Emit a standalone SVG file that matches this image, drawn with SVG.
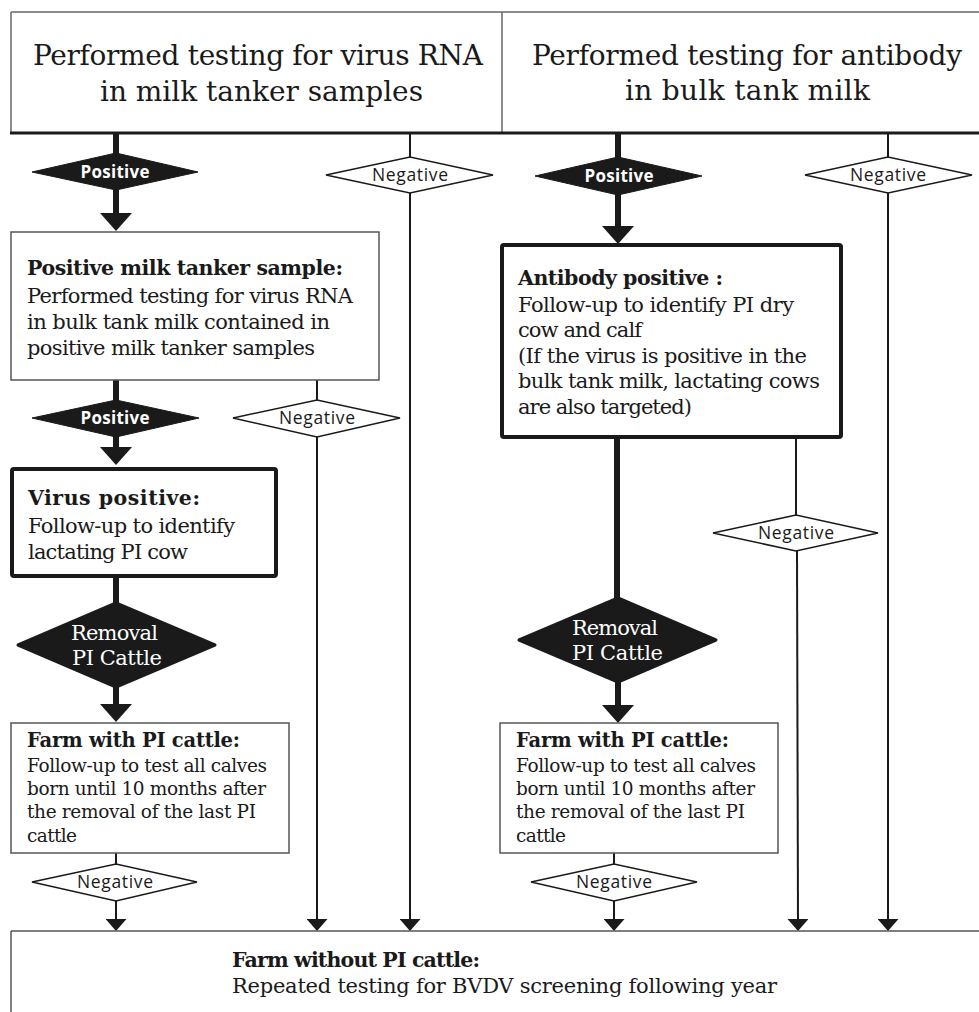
<svg xmlns="http://www.w3.org/2000/svg" width="979" height="1012" viewBox="0 0 979 1012">
<style>
.hdr{font-family:"DejaVu Serif","Liberation Serif",serif;font-size:28px;fill:#1a1a1a}
.t{font-family:"DejaVu Serif","Liberation Serif",serif;font-size:21px;fill:#1a1a1a}
.ts{font-family:"DejaVu Serif","Liberation Serif",serif;font-size:18.5px;fill:#1a1a1a}
.b{font-family:"DejaVu Serif","Liberation Serif",serif;font-size:20.5px;font-weight:bold;fill:#1a1a1a}
.bs{font-family:"DejaVu Serif","Liberation Serif",serif;font-size:19.5px;font-weight:bold;fill:#1a1a1a}
.rm{font-family:"DejaVu Serif","Liberation Serif",serif;font-size:21px;fill:#fff}
.pos{font-family:"Open Sans","Liberation Sans",sans-serif;font-size:17px;font-weight:bold;fill:#fff}
.neg{font-family:"Open Sans","Liberation Sans",sans-serif;font-size:17.5px;fill:#1a1a1a}
.thin{fill:#fff;stroke:#555;stroke-width:1.5}
.thick{fill:#fff;stroke:#1a1a1a;stroke-width:4}
.dpos{fill:#1a1a1a;stroke:#1a1a1a;stroke-width:1;stroke-linejoin:round}
.dneg{fill:#fff;stroke:#1a1a1a;stroke-width:1.5}
.drm{fill:#1a1a1a;stroke:#1a1a1a;stroke-width:3;stroke-linejoin:round}
.sk{stroke:#1a1a1a;stroke-width:6;fill:none}
.sn{stroke:#1a1a1a;stroke-width:2;fill:none}
</style>
<defs>
<marker id="ah" viewBox="0 -16 18 32" refX="3" refY="0" markerWidth="18" markerHeight="32" markerUnits="userSpaceOnUse" orient="auto">
<path d="M0,-16 L18,0 L0,16 Z" fill="#1a1a1a"/>
</marker>
<marker id="an" viewBox="0 -10.5 12 21" refX="2" refY="0" markerWidth="12" markerHeight="21" markerUnits="userSpaceOnUse" orient="auto">
<path d="M0,-10.5 L12,0 L0,10.5 Z" fill="#1a1a1a"/>
</marker>
</defs>
<rect width="979" height="1012" fill="#fff"/>

<g id="header">
<line x1="11" y1="12" x2="979" y2="12" stroke="#666" stroke-width="1.5"/>
<line x1="11" y1="12" x2="11" y2="133" stroke="#666" stroke-width="1.5"/>
<line x1="502" y1="12" x2="502" y2="133" stroke="#666" stroke-width="1.5"/>
<line x1="10" y1="133" x2="979" y2="133" stroke="#1a1a1a" stroke-width="3"/>
<text class="hdr" x="258" y="65" text-anchor="middle" textLength="450">Performed testing for virus RNA</text>
<text class="hdr" x="261.5" y="101" text-anchor="middle" textLength="323">in milk tanker samples</text>
<text class="hdr" x="747" y="65" text-anchor="middle" textLength="430">Performed testing for antibody</text>
<text class="hdr" x="747.5" y="100" text-anchor="middle" textLength="245">in bulk tank milk</text>
</g>

<g id="connectors">
<line class="sk" x1="116" y1="133" x2="116" y2="155"/>
<line class="sk" x1="116" y1="188" x2="116" y2="216" marker-end="url(#ah)"/>
<line class="sk" x1="116" y1="380" x2="116" y2="402"/>
<line class="sk" x1="116" y1="435" x2="116" y2="450" marker-end="url(#ah)"/>
<line class="sk" x1="116" y1="577" x2="116" y2="605"/>
<line class="sk" x1="116" y1="685" x2="116" y2="707" marker-end="url(#ah)"/>
<line class="sk" x1="618" y1="133" x2="618" y2="159"/>
<line class="sk" x1="618" y1="193" x2="618" y2="229" marker-end="url(#ah)"/>
<line class="sk" x1="617" y1="437" x2="617" y2="600"/>
<line class="sk" x1="618" y1="680" x2="618" y2="708" marker-end="url(#ah)"/>
<line class="sn" x1="410" y1="133" x2="410" y2="157"/>
<line class="sn" x1="410" y1="193" x2="410" y2="921" marker-end="url(#an)"/>
<line class="sn" x1="888" y1="133" x2="888" y2="157"/>
<line class="sn" x1="888" y1="193" x2="888" y2="921" marker-end="url(#an)"/>
<line class="sn" x1="317" y1="380" x2="317" y2="400"/>
<line class="sn" x1="317" y1="437" x2="317" y2="921" marker-end="url(#an)"/>
<line class="sn" x1="796" y1="437" x2="796" y2="515"/>
<line class="sn" x1="797" y1="551" x2="798" y2="921" marker-end="url(#an)"/>
<line class="sn" x1="116" y1="853" x2="116" y2="864"/>
<line class="sn" x1="116" y1="901" x2="116" y2="921" marker-end="url(#an)"/>
<line class="sn" x1="614" y1="853" x2="614" y2="864"/>
<line class="sn" x1="614" y1="901" x2="614" y2="921" marker-end="url(#an)"/>
</g>

<g id="pos1">
<polygon class="dpos" points="32,172 116,153 198,172 116,190"/>
<text class="pos" x="115" y="178" text-anchor="middle" textLength="69">Positive</text>
</g>
<g id="neg1">
<polygon class="dneg" points="326,175 410,157 493,175 410,193"/>
<text class="neg" x="410" y="181" text-anchor="middle" textLength="76">Negative</text>
</g>
<g id="pos2">
<polygon class="dpos" points="535,176 618,157 702,176 618,195"/>
<text class="pos" x="619" y="182" text-anchor="middle" textLength="69">Positive</text>
</g>
<g id="neg2">
<polygon class="dneg" points="805,175 888,157 972,175 888,193"/>
<text class="neg" x="888" y="181" text-anchor="middle" textLength="76">Negative</text>
</g>

<g id="box-tanker">
<rect class="thin" x="11" y="232" width="368" height="148"/>
<text class="b" x="27" y="275" textLength="316">Positive milk tanker sample:</text>
<text class="t" x="27" y="303" textLength="326">Performed testing for virus RNA</text>
<text class="t" x="27" y="329" textLength="303">in bulk tank milk contained in</text>
<text class="t" x="27" y="355" textLength="288">positive milk tanker samples</text>
</g>

<g id="box-antibody">
<rect class="thick" x="502" y="245" width="339" height="192" rx="2"/>
<text class="b" x="518" y="285" textLength="205">Antibody positive :</text>
<text class="t" x="518" y="312" textLength="276">Follow-up to identify PI dry</text>
<text class="t" x="518" y="337" textLength="124">cow and calf</text>
<text class="t" x="518" y="363" textLength="289">(If the virus is positive in the</text>
<text class="t" x="518" y="388" textLength="302">bulk tank milk, lactating cows</text>
<text class="t" x="518" y="414" textLength="174">are also targeted)</text>
</g>

<g id="pos3">
<polygon class="dpos" points="32,418 116,400 199,418 116,437"/>
<text class="pos" x="115" y="424" text-anchor="middle" textLength="69">Positive</text>
</g>
<g id="neg3">
<polygon class="dneg" points="233,418 317,400 400,418 317,437"/>
<text class="neg" x="317" y="424" text-anchor="middle" textLength="76">Negative</text>
</g>

<g id="box-virus">
<rect class="thick" x="12" y="469" width="264" height="107" rx="2"/>
<text class="b" x="28" y="505" textLength="172">Virus positive:</text>
<text class="t" x="28" y="533" textLength="207">Follow-up to identify</text>
<text class="t" x="28" y="559" textLength="160">lactating PI cow</text>
</g>

<g id="neg4">
<polygon class="dneg" points="713,533 796,515 878,533 796,551"/>
<text class="neg" x="796" y="539" text-anchor="middle" textLength="76">Negative</text>
</g>

<g id="removal-left">
<polygon class="drm" points="18,645 116,603 215,645 116,687"/>
<text class="rm" x="114.5" y="640" text-anchor="middle" textLength="87">Removal</text>
<text class="rm" x="117" y="665" text-anchor="middle" textLength="90">PI Cattle</text>
</g>
<g id="removal-right">
<polygon class="drm" points="519,640 618,598 716,640 618,682"/>
<text class="rm" x="615" y="635" text-anchor="middle" textLength="86">Removal</text>
<text class="rm" x="617.5" y="660" text-anchor="middle" textLength="91">PI Cattle</text>
</g>

<g id="farm-left">
<rect class="thin" x="11" y="723" width="278" height="130"/>
<text class="bs" x="27" y="747" textLength="213">Farm with PI cattle:</text>
<text class="ts" x="27" y="772" textLength="240">Follow-up to test all calves</text>
<text class="ts" x="27" y="795" textLength="239">born until 10 months after</text>
<text class="ts" x="27" y="818" textLength="229">the removal of the last PI</text>
<text class="ts" x="27" y="842" textLength="50">cattle</text>
</g>
<g id="farm-right">
<rect class="thin" x="500" y="723" width="278" height="130"/>
<text class="bs" x="516" y="747" textLength="213">Farm with PI cattle:</text>
<text class="ts" x="516" y="772" textLength="240">Follow-up to test all calves</text>
<text class="ts" x="516" y="795" textLength="239">born until 10 months after</text>
<text class="ts" x="516" y="818" textLength="229">the removal of the last PI</text>
<text class="ts" x="516" y="842" textLength="50">cattle</text>
</g>

<g id="neg5">
<polygon class="dneg" points="32,882 116,864 197,882 116,901"/>
<text class="neg" x="115" y="888" text-anchor="middle" textLength="76">Negative</text>
</g>
<g id="neg6">
<polygon class="dneg" points="531,882 614,864 697,882 614,901"/>
<text class="neg" x="614" y="888" text-anchor="middle" textLength="76">Negative</text>
</g>

<g id="farm-without">
<line x1="11" y1="931" x2="979" y2="931" stroke="#555" stroke-width="1.5"/>
<line x1="11" y1="931" x2="11" y2="1012" stroke="#555" stroke-width="1.5"/>
<text class="b" x="232" y="967" textLength="248">Farm without PI cattle:</text>
<text class="t" x="232" y="993" textLength="545">Repeated testing for BVDV screening following year</text>
</g>
</svg>
